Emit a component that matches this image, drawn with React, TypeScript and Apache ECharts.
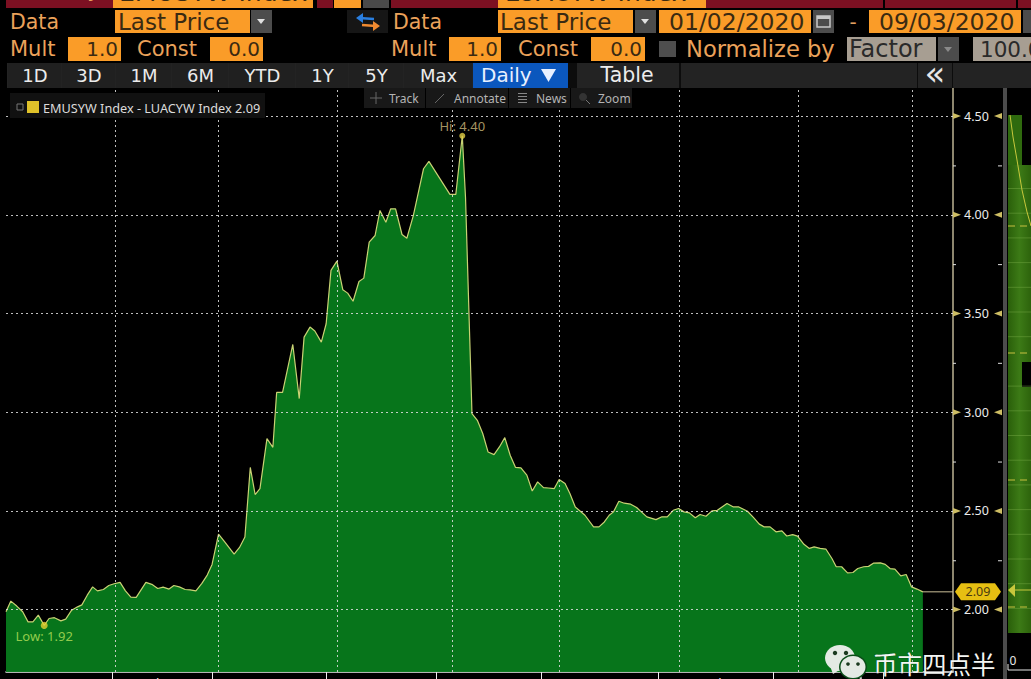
import React, { useEffect, useRef } from "react";
import * as echarts from "echarts";

// Spread history: trading-day position and yield spread (%)
const tradingDay = [
  0, 0.9, 2.0, 3.1, 4.1, 5.0, 6.0, 7.1, 8.0, 9.0, 10.2, 11.1, 12.2, 13.3, 14.1, 15.1, 16.1, 17.0, 18.1, 19.1,
  20.1, 21.2, 22.2, 23.2, 24.2, 26.0, 27.1, 28.2, 29.2, 30.3, 31.2, 32.2, 33.3, 34.2, 35.3, 36.4, 37.4, 38.3, 39.5, 40.5,
  42.4, 43.4, 44.4, 45.4, 46.3, 47.2, 48.5, 49.6, 50.3, 51.4, 53.3, 54.5, 55.4, 56.5, 57.4, 58.6, 59.5, 60.4, 61.5, 62.6,
  63.5, 64.5, 65.6, 66.5, 67.5, 68.6, 69.5, 70.6, 71.5, 72.4, 73.6, 74.5, 75.7, 77.6, 78.6, 82.5, 83.6, 84.8, 85.4, 86.6,
  87.6, 88.6, 89.6, 90.7, 91.7, 92.7, 93.7, 94.7, 95.7, 96.8, 97.8, 98.8, 99.9, 100.8, 101.9, 102.8, 103.9, 104.8, 105.8, 107.6,
  109.2, 110.2, 111.2, 112.1, 112.9, 113.9, 114.9, 116.1, 117.2, 119.1, 120.8, 121.9, 122.9, 124.0, 125.0, 126.0, 127.0, 128.1, 129.0, 130.1,
  131.2, 132.2, 134.0, 135.2, 136.2, 137.8, 138.9, 140.0, 140.9, 142.0, 143.1, 144.2, 145.1, 146.2, 147.1, 148.3, 149.3, 150.2, 151.3, 152.4,
  153.5, 154.3, 155.3, 156.4, 157.4, 158.3, 159.4, 160.3, 161.2, 162.5, 163.4, 164.3, 165.2, 166.3, 167.3, 168.3, 169.3, 170.4,
];
const spreadValues = [
  1.989, 2.043, 2.018, 1.989, 1.938, 1.938, 1.972, 1.92, 1.955, 1.959, 1.943, 1.952, 1.997, 2.014, 2.024, 2.073, 2.115, 2.095, 2.102, 2.122,
  2.131, 2.138, 2.095, 2.063, 2.062, 2.138, 2.128, 2.107, 2.114, 2.104, 2.122, 2.115, 2.102, 2.1, 2.095, 2.133, 2.175, 2.229, 2.382, 2.348,
  2.281, 2.315, 2.368, 2.72, 2.583, 2.613, 2.866, 2.822, 3.1, 3.1, 3.343, 3.069, 3.38, 3.431, 3.411, 3.355, 3.448, 3.718, 3.765, 3.62,
  3.603, 3.562, 3.662, 3.679, 3.861, 3.895, 4.022, 3.962, 4.03, 4.03, 3.9, 3.881, 3.996, 4.233, 4.27, 4.103, 4.103, 4.4, 4.089, 2.993,
  2.959, 2.892, 2.798, 2.785, 2.824, 2.871, 2.782, 2.72, 2.718, 2.681, 2.601, 2.647, 2.618, 2.616, 2.613, 2.659, 2.639, 2.588, 2.52, 2.478,
  2.419, 2.419, 2.444, 2.478, 2.495, 2.549, 2.539, 2.534, 2.517, 2.47, 2.456, 2.47, 2.47, 2.503, 2.512, 2.495, 2.49, 2.465, 2.482, 2.473,
  2.5, 2.503, 2.537, 2.52, 2.52, 2.498, 2.467, 2.433, 2.419, 2.419, 2.394, 2.399, 2.373, 2.38, 2.372, 2.331, 2.31, 2.318, 2.31, 2.306,
  2.259, 2.217, 2.217, 2.186, 2.188, 2.208, 2.217, 2.219, 2.235, 2.237, 2.229, 2.208, 2.205, 2.171, 2.178, 2.115, 2.104, 2.09,
];
const lastValue = 2.09;
const hiPoint = [84.8, 4.4];
const loPoint = [7.1, 1.92];

const yMajor = [2, 2.5, 3, 3.5, 4, 4.5];
const yMinor = [2.25, 2.75, 3.25, 3.75, 4.25];
const gridDays = [20.3, 39.4, 61.5, 82.9, 102.8, 125.1, 147.2, 168.4];
const monthTickDays = [19.7, 38.3, 59.5, 79.9, 99.4, 121.2, 142.6, 163];
const monthLabelDays = [8.2, 27.3, 47.8, 68.6, 88.1, 108.9, 131.6, 151.7, 172.5];
const monthNames = ["Jan", "Feb", "Mar", "Apr", "May", "Jun", "Jul", "Aug", "Sep"];
const rangeTabs = ["1D", "3D", "1M", "6M", "YTD", "1Y", "5Y", "Max"];

const UI = '"DejaVu Sans"';
const SMALL = '"Noto Sans"';
const ORANGE = "#fa9c28";
const LABEL = "#eba25a";
const INK = "#3a2a12";

const rect = (x: number, y: number, width: number, height: number, fill: any, extra: any = {}) => ({
  type: "rect", z: 100, silent: true, shape: { x, y, width, height }, style: { fill, ...extra },
});
const text = (x: number, y: number, t: string, fill: string, size: number, align = "left", family = UI) => ({
  type: "text", z: 101, silent: true, x, y,
  style: { text: t, fill, font: `${size}px ${family}`, align, verticalAlign: "middle" },
});
const poly = (points: number[][], fill: string) => ({
  type: "polygon", z: 101, silent: true, shape: { points }, style: { fill },
});
const pline = (points: number[][], stroke: string, lineWidth = 1, lineDash?: number[]) => ({
  type: "polyline", z: 101, silent: true, shape: { points }, style: { stroke, lineWidth, fill: "none", lineDash },
});
const ell = (cx: number, cy: number, rx: number, ry: number, fill: string, z = 102) => ({
  type: "ellipse", z, silent: true, shape: { cx, cy, rx, ry }, style: { fill },
});

function headerGraphics(): any[] {
  const g: any[] = [];
  g.push(rect(0, 0, 1031, 88, "#000"));
  // row 0: cropped security row
  g.push(rect(6, 0, 107, 8, "#7c1022"), rect(113, 0, 200, 8, ORANGE), rect(317, 0, 16, 8, "#7c1022"));
  g.push(rect(334, 0, 27, 8, ORANGE), rect(363, 0, 26, 8, "#4a4a4a"), rect(391, 0, 107, 8, "#7c1022"));
  g.push(rect(498, 0, 208, 8, ORANGE), rect(706, 0, 177, 8, "#7c1022"), rect(885, 0, 131, 8, "#7c1022"), rect(1018, 0, 13, 8, "#7c1022"));
  g.push(text(119, -8, "EMUSYW Index", INK, 25), text(505, -8, "LUACYW Index", INK, 25));
  g.push(text(10, -11, "Security", LABEL, 22));
  // row 1
  g.push(text(10, 22, "Data", LABEL, 20.5));
  g.push(rect(115, 10, 135, 23, ORANGE), text(118, 22, "Last Price", INK, 23));
  g.push(rect(251, 10, 21, 23, "#4c4c4c"), poly([[257, 19], [265, 19], [261, 24]], "#e0e0e0"));
  g.push(rect(347, 10, 41, 23, "#161616"));
  g.push(pline([[359, 18], [374, 19]], "#2a7fe0", 2.5), poly([[356, 18], [363, 13], [363, 23]], "#2a7fe0"));
  g.push(pline([[362, 25], [376, 26]], "#f08a30", 2.5), poly([[380, 26], [373, 21], [373, 31]], "#f08a30"));
  g.push(text(393, 22, "Data", LABEL, 20.5));
  g.push(rect(498, 10, 135, 23, ORANGE), text(500, 22, "Last Price", INK, 23));
  g.push(rect(635, 10, 21, 23, "#4c4c4c"), poly([[641, 19], [649, 19], [645, 24]], "#e0e0e0"));
  g.push(rect(659, 10, 152, 23, ORANGE), text(669, 22, "01/02/2020", INK, 23.5));
  g.push(rect(813, 10, 21, 23, "#4c4c4c"), rect(817, 16, 13, 11, "none", { stroke: "#c8c8c8", lineWidth: 1.5 }), rect(817, 16, 13, 3, "#c8c8c8"));
  g.push(text(853, 22, "-", "#e0a060", 20, "center"));
  g.push(rect(869, 10, 152, 23, ORANGE), text(879, 22, "09/03/2020", INK, 23.5));
  g.push(rect(1023, 10, 8, 23, "#4c4c4c"));
  // row 2
  g.push(text(10, 49, "Mult", LABEL, 21));
  g.push(rect(68, 37, 53, 24, ORANGE), text(118, 49, "1.0", INK, 20, "right"));
  g.push(text(137, 49, "Const", LABEL, 21));
  g.push(rect(210, 37, 53, 24, ORANGE), text(260, 49, "0.0", INK, 20, "right"));
  g.push(text(391, 49, "Mult", LABEL, 21));
  g.push(rect(449, 37, 52, 24, ORANGE), text(498, 49, "1.0", INK, 20, "right"));
  g.push(text(518, 49, "Const", LABEL, 21));
  g.push(rect(591, 37, 54, 24, ORANGE), text(642, 49, "0.0", INK, 20, "right"));
  g.push(rect(659, 41, 17, 16, "#4e4e4e"));
  g.push(text(686, 49, "Normalize by", LABEL, 22.6));
  g.push(rect(847, 37, 89, 24, "#a79e92"), text(849, 49, "Factor", "#2a2a2a", 24));
  g.push(rect(938, 37, 21, 24, "#4c4c4c"), poly([[944, 47], [952, 47], [948, 52]], "#8a8a8a"));
  g.push(rect(973, 37, 58, 24, "#a79e92"), text(980, 49, "100.0", "#2a2a2a", 21.5));
  // row 3 tabs
  g.push(rect(7, 63, 1024, 25, "#232323"));
  const edges = [7, 61, 115, 171, 228, 295, 348, 403, 472];
  rangeTabs.forEach((t, i) => {
    g.push(rect(edges[i] + 1, 63, edges[i + 1] - edges[i] - 1, 25, "#202020"));
    g.push(text((edges[i] + edges[i + 1]) / 2 + 1, 75, t, "#ececec", 18, "center"));
  });
  g.push(rect(473, 63, 95, 25, "#0b57bd"), text(481, 75, "Daily", "#e8f0ff", 20));
  g.push(poly([[541, 69], [556, 69], [548.5, 82]], "#e8f0ff"));
  g.push(rect(568, 63, 9, 25, "#0c0c0c"));
  g.push(text(627, 75, "Table", "#ececec", 20.5, "center"));
  g.push(rect(679, 63, 2, 25, "#0c0c0c"), rect(917, 63, 1, 25, "#0c0c0c"), rect(952, 63, 1, 25, "#0c0c0c"));
  g.push(text(935, 73, "«", "#e8e8e8", 34, "center"));
  // tool strip
  g.push(rect(364, 88, 268, 20, "#181818"));
  g.push(rect(425, 88, 1, 20, "#000"), rect(508, 88, 1, 20, "#000"), rect(570, 88, 1, 20, "#000"));
  g.push(pline([[370, 98], [382, 98]], "#666"), pline([[376, 92], [376, 104]], "#666"));
  g.push(text(389, 98, "Track", "#b4b4b4", 12, "left", SMALL));
  g.push(pline([[435, 103], [444, 94]], "#666"));
  g.push(text(454, 98, "Annotate", "#b4b4b4", 12, "left", SMALL));
  g.push(rect(518, 93, 9, 1, "#888"), rect(518, 96, 9, 1, "#888"), rect(518, 99, 9, 1, "#888"), rect(518, 102, 9, 1, "#888"));
  g.push(text(536, 98, "News", "#b4b4b4", 12, "left", SMALL));
  g.push(ell(583, 97, 4, 4, "#333"), pline([[586, 100], [590, 104]], "#777"));
  g.push(text(598, 98, "Zoom", "#b4b4b4", 12, "left", SMALL));
  // legend
  g.push(rect(10, 93, 255, 25, "#111111"));
  g.push(rect(17, 104, 6, 6, "none", { stroke: "#777", lineWidth: 1 }));
  g.push(rect(27, 101, 12, 12, "#e0c22a"));
  g.push(text(43, 108, "EMUSYW Index - LUACYW Index 2.09", "#dcdcdc", 12.7, "left", SMALL));
  return g;
}

function sidePanelGraphics(): any[] {
  const g: any[] = [];
  const fill = new echarts.graphic.LinearGradient(0, 0, 1, 0, [
    { offset: 0, color: "#2a5f0a" }, { offset: 0.5, color: "#3c7a16" }, { offset: 1, color: "#2d630c" },
  ]);
  g.push(rect(1003, 88, 4, 591, "#4c4c4c"));
  g.push(rect(1008, 115, 14, 50, "#2f6a0e"));
  g.push(rect(1008, 165, 23, 468, fill));
  g.push(rect(1022, 362, 9, 25, "#000"));
  for (let k = 0; k < 18; k++) {
    if (k !== 7) g.push(rect(1008, 188 + k * 24.7, 23, 1, "rgba(120,170,70,0.45)"));
  }
  [226, 353, 480, 607].forEach((y) => g.push(pline([[1008, y], [1031, y]], "#c8c040", 1, [7, 5])));
  g.push(pline([[1010, 115], [1013, 137], [1017, 160], [1022, 190], [1027, 212], [1031, 226]], "#c8c83c"));
  g.push(pline([[1014, 590], [1031, 590]], "#c8c83c"));
  g.push(poly([[1008, 590], [1015, 584], [1015, 597]], "#c8c83c"));
  g.push(text(1013, 660, "0", "#e8e8e8", 12, "center", SMALL));
  g.push(pline([[1008, 664], [1008, 670], [1031, 670]], "#e8e8e8"));
  return g;
}

function watermarkGraphics(): any[] {
  const g: any[] = [];
  const c = "#e4eae4";
  g.push(ell(840, 658, 15, 13, c, 102), poly([[830, 666], [833, 674], [841, 669]], c));
  g.push(ell(835, 653, 2.2, 2.2, "#1b3a20", 103), ell(846, 653, 2.2, 2.2, "#1b3a20", 103));
  g.push(ell(853, 667, 14, 12.5, "#0a4d18", 103), ell(853, 667, 12.5, 11, c, 104), poly([[856, 676], [862, 680], [861, 673]], c));
  g.push(ell(848, 664, 1.8, 1.8, "#1b3a20", 105), ell(858, 664, 1.8, 1.8, "#1b3a20", 105));
  g.push({
    type: "text", z: 106, silent: true, x: 873, y: 663,
    style: { text: "币市四点半", fill: "#f4f6f4", font: '24.5px "Noto Sans CJK SC"', align: "left", verticalAlign: "middle", stroke: "rgba(0,0,0,0.25)", lineWidth: 1 },
  });
  return g;
}

export default function App() {
  const ref = useRef<HTMLDivElement | null>(null);
  useEffect(() => {
    document.body.style.margin = "0";
    document.body.style.background = "#000";
    const chart = echarts.init(ref.current!, undefined, { renderer: "svg" });
    const gridLine = { color: "rgba(225,225,225,0.85)", type: [2, 3] as any, width: 1 };
    chart.setOption({
      animation: false,
      backgroundColor: "#000",
      grid: { left: 6, top: 88, width: 947, height: 584, containLabel: false, outerBoundsMode: "none" },
      xAxis: {
        type: "value", min: 0, max: 176, splitLine: { show: false },
        axisLine: { show: true, onZero: false, lineStyle: { color: "#f0f0f0", width: 1.5 } },
        axisTick: { show: true, customValues: monthTickDays, length: 7, lineStyle: { color: "#f0f0f0" } },
        axisLabel: {
          customValues: monthLabelDays, margin: 4, color: "#f0f0f0", fontSize: 13, fontFamily: "Noto Sans",
          formatter: (v: number) => monthNames[monthLabelDays.indexOf(v)] ?? "",
        },
      },
      yAxis: {
        type: "value", position: "right", min: 1.684, max: 4.642, splitLine: { show: false },
        axisLine: { show: true, onZero: false, lineStyle: { color: "#bdb393", width: 1.5 } },
        axisTick: { show: false },
        axisLabel: {
          customValues: yMajor, inside: false, margin: 11, color: "#ececec", fontSize: 12.5, fontFamily: "Noto Sans",
          formatter: (v: number) => v.toFixed(2),
        },
      },
      series: [
        {
          type: "line", name: "grid", z: 1, data: [], silent: true,
          markLine: {
            silent: true, symbol: "none", label: { show: false }, lineStyle: gridLine, animation: false,
            data: [...gridDays.map((d) => ({ xAxis: d })), ...yMajor.map((v) => ({ yAxis: v }))],
          },
        },
        {
          type: "line", name: "EMUSYW Index - LUACYW Index", z: 2, silent: true,
          data: tradingDay.map((d, i) => [d, spreadValues[i]]),
          showSymbol: false, smooth: false,
          lineStyle: { color: "#c9d274", width: 1.2 },
          areaStyle: { origin: "start", color: "#077a1c", opacity: 0.96 },
        },
        {
          type: "line", name: "last", z: 3, silent: true, showSymbol: false,
          data: [[tradingDay[tradingDay.length - 1], lastValue], [176, lastValue]],
          lineStyle: { color: "#cbbf98", width: 1 },
        },
        {
          type: "scatter", name: "hi", z: 4, silent: true, symbolSize: 6, itemStyle: { color: "#e3cf46" },
          data: [hiPoint],
          label: { show: true, position: "top", distance: 0, formatter: "Hi: 4.40", color: "#d0bc7c", fontSize: 13, fontFamily: "Noto Sans" },
        },
        {
          type: "scatter", name: "lo", z: 4, silent: true, symbolSize: 7, itemStyle: { color: "#e3cf30" },
          data: [loPoint],
          label: { show: true, position: "bottom", distance: 1, formatter: "Low: 1.92", color: "#b9e25a", fontSize: 13, fontFamily: "Noto Sans" },
        },
        {
          type: "custom", name: "majorMarks", z: 5, silent: true, clip: false,
          data: yMajor.map((v) => [0, v]),
          renderItem: (params: any, api: any) => {
            const y = api.coord([0, api.value(1)])[1];
            const right = params.coordSys.x + params.coordSys.width;
            return {
              type: "group",
              children: [
                { type: "polygon", shape: { points: [[right, y - 3], [right + 8, y], [right, y + 3]] }, style: { fill: "#cdbd63" } },
                { type: "polygon", shape: { points: [[right + 49, y - 3], [right + 41, y], [right + 49, y + 3]] }, style: { fill: "#cdbd63" } },
              ],
            };
          },
        },
        {
          type: "custom", name: "minorMarks", z: 5, silent: true, clip: false,
          data: yMinor.map((v) => [0, v]),
          renderItem: (params: any, api: any) => {
            const y = api.coord([0, api.value(1)])[1];
            const right = params.coordSys.x + params.coordSys.width;
            return {
              type: "group",
              children: [
                { type: "rect", shape: { x: right, y, width: 3, height: 1 }, style: { fill: "#e0e0e0" } },
                { type: "rect", shape: { x: right + 45, y, width: 4, height: 1 }, style: { fill: "#e0e0e0" } },
              ],
            };
          },
        },
        {
          type: "custom", name: "lastTag", z: 6, silent: true, clip: false,
          data: [[0, lastValue]],
          renderItem: (params: any, api: any) => {
            const y = api.coord([0, api.value(1)])[1];
            const r = params.coordSys.x + params.coordSys.width;
            return {
              type: "group",
              children: [
                {
                  type: "polygon",
                  shape: { points: [[r + 2, y], [r + 8, y - 8.5], [r + 42, y - 8.5], [r + 48, y], [r + 42, y + 8.5], [r + 8, y + 8.5]] },
                  style: { fill: "#e6bf12" },
                },
                {
                  type: "text", x: r + 25, y,
                  style: { text: lastValue.toFixed(2), fill: "#4a3a10", font: '12.5px "Noto Sans"', align: "center", verticalAlign: "middle" },
                },
              ],
            };
          },
        },
      ],
      graphic: { elements: [...headerGraphics(), ...sidePanelGraphics(), ...watermarkGraphics()] },
    });
    return () => chart.dispose();
  }, []);
  return <div ref={ref} style={{ width: 1031, height: 679, position: "fixed", left: 0, top: 0 }} />;
}
